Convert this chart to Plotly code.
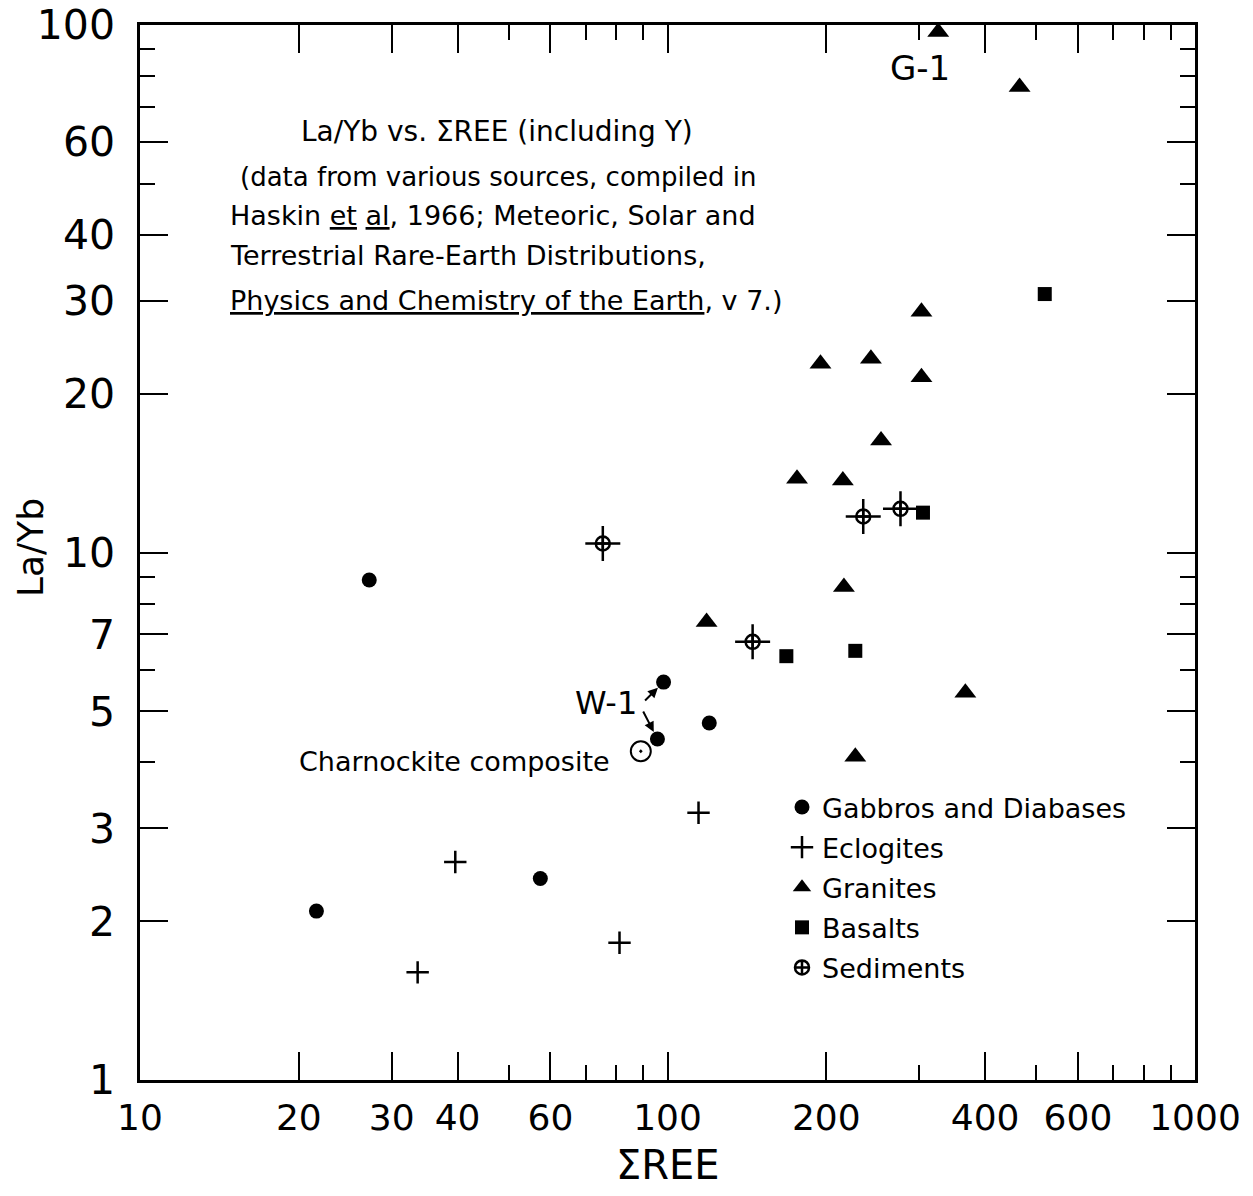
import math
import plotly.graph_objects as go

# ---------------- data ----------------
gabbro_x = [21.6, 27.2, 57.4, 98.3, 95.7, 120]
gabbro_y = [2.09, 8.87, 2.41, 5.68, 4.43, 4.75]

eclogite_x = [33.6, 39.6, 81.1, 114.5]
eclogite_y = [1.60, 2.59, 1.82, 3.21]

granite_x = [326, 465, 303, 195, 243, 303, 254, 176, 215, 216, 118.6, 227, 367]
granite_y = [97, 76.3, 28.6, 22.8, 23.3, 21.5, 16.3, 13.8, 13.7, 8.6, 7.38, 4.10, 5.42]

basalt_x = [519, 305, 168, 227]
basalt_y = [30.9, 11.9, 6.36, 6.51]

sediment_x = [75.4, 145, 235, 276.5]
sediment_y = [10.4, 6.77, 11.7, 12.1]

charnockite_x = [89]
charnockite_y = [4.20]

x_major = [10, 20, 30, 40, 60, 100, 200, 400, 600, 1000]
x_major_text = ["10", "20", "30", "40", "60", "100", "200", "400", "600", "1000"]
x_minor = [50, 70, 80, 90, 300, 500, 700, 800, 900]

y_major = [1, 2, 3, 5, 7, 10, 20, 30, 40, 60, 100]
y_major_text = ["1", "2", "3", "5", "7", "10", "20", "30", "40", "60", "100"]
y_minor = [4, 6, 8, 9, 50, 70, 80, 90]

FONT = "DejaVu Sans"
W, H = 1253, 1196
L, R, T, B = 140, 58, 25, 116
PW, PH = W - L - R, H - T - B


def px(xp):
    return (xp - L) / PW


def py(yp):
    return (H - B - yp) / PH


fig = go.Figure()

fig.add_trace(go.Scatter(
    x=gabbro_x, y=gabbro_y, mode="markers", name="Gabbros and Diabases",
    legendgroup="g", marker=dict(symbol="circle", size=15, color="black")))
fig.add_trace(go.Scatter(
    x=eclogite_x, y=eclogite_y, mode="markers", name="Eclogites",
    legendgroup="e",
    marker=dict(symbol="cross-thin", size=16, color="black",
                line=dict(width=2.5, color="black"))))
fig.add_trace(go.Scatter(
    x=granite_x, y=granite_y, mode="markers", name="Granites",
    legendgroup="gr", marker=dict(symbol="triangle-up", size=19, color="black")))
fig.add_trace(go.Scatter(
    x=basalt_x, y=basalt_y, mode="markers", name="Basalts",
    legendgroup="b", marker=dict(symbol="square", size=14, color="black")))
fig.add_trace(go.Scatter(
    x=sediment_x, y=sediment_y, mode="markers", showlegend=False,
    legendgroup="s",
    marker=dict(symbol="cross-thin", size=25, color="black",
                line=dict(width=2.5, color="black"))))
fig.add_trace(go.Scatter(
    x=sediment_x, y=sediment_y, mode="markers", name="Sediments",
    legendgroup="s",
    marker=dict(symbol="circle-cross-open", size=14, color="black",
                line=dict(width=2.5, color="black"))))
fig.add_trace(go.Scatter(
    x=charnockite_x, y=charnockite_y, mode="markers", showlegend=False,
    marker=dict(symbol="circle-open-dot", size=20, color="black",
                line=dict(width=2, color="black"))))

annotations = []


def txt(text, xp, yp, size=26, xanchor="center", angle=0):
    annotations.append(dict(
        text=text, x=px(xp), y=py(yp), xref="paper", yref="paper",
        xanchor=xanchor, yanchor="middle", showarrow=False, textangle=angle,
        font=dict(family=FONT, size=size, color="black")))


txt("La/Yb vs. \u03a3REE (including Y)", 497, 131, size=28)
txt("(data from various sources, compiled in", 498, 177, size=26)
txt("Haskin <u>et</u> <u>al</u>, 1966; Meteoric, Solar and", 228, 216, size=27, xanchor="left")
txt("Terrestrial Rare-Earth Distributions,", 228, 255, size=27, xanchor="left")
txt("<u>Physics and Chemistry of the Earth</u>, v 7.)", 228, 300, size=27, xanchor="left")
txt("Charnockite composite", 612, 761, size=27, xanchor="right")
txt("G-1", 920, 68, size=34)
txt("W-1", 606, 703, size=32)
# axis titles
txt("\u03a3REE", 668, 1165, size=40)
txt("La/Yb", 30, 548, size=36, angle=-90)

# W-1 arrows
annotations.append(dict(
    x=math.log10(gabbro_x[3]), y=math.log10(gabbro_y[3]), xref="x", yref="y",
    ax=-20, ay=20, showarrow=True, arrowhead=2, arrowsize=1, arrowwidth=2,
    arrowcolor="black", standoff=8, text=""))
annotations.append(dict(
    x=math.log10(gabbro_x[4]), y=math.log10(gabbro_y[4]), xref="x", yref="y",
    ax=-15, ay=-29, showarrow=True, arrowhead=2, arrowsize=1, arrowwidth=2,
    arrowcolor="black", standoff=8, text=""))

axis_common = dict(
    type="log", showgrid=False, zeroline=False, showline=True,
    linecolor="black", linewidth=2.5, mirror="allticks",
    ticks="inside", ticklen=28, tickwidth=2, tickcolor="black",
    automargin=False,
)

fig.update_layout(
    width=W, height=H,
    margin=dict(l=L, r=R, t=T, b=B, autoexpand=False),
    paper_bgcolor="white", plot_bgcolor="white",
    font=dict(family=FONT, color="black"),
    xaxis=dict(
        **axis_common, range=[1, 3],
        tickfont=dict(family=FONT, size=36, color="black"),
        tickmode="array", tickvals=x_major, ticktext=x_major_text,
        ticklabelstandoff=4,
        minor=dict(tickmode="array", tickvals=x_minor, ticks="inside",
                   ticklen=15, tickwidth=2, tickcolor="black"),
    ),
    yaxis=dict(
        **axis_common, range=[0, 2],
        tickfont=dict(family=FONT, size=41, color="black"),
        tickmode="array", tickvals=y_major, ticktext=y_major_text,
        ticklabelstandoff=14,
        minor=dict(tickmode="array", tickvals=y_minor, ticks="inside",
                   ticklen=15, tickwidth=2, tickcolor="black"),
    ),
    showlegend=True,
    legend=dict(
        x=px(782), y=py(783), xanchor="left", yanchor="top",
        bgcolor="rgba(0,0,0,0)", borderwidth=0,
        font=dict(family=FONT, size=27, color="black"),
        tracegroupgap=2, itemwidth=30,
    ),
    annotations=annotations,
)

fig.write_html(
    "out.html",
    config={"displayModeBar": False},
    post_script="document.body.style.margin='0';document.body.style.overflow='hidden';",
)
